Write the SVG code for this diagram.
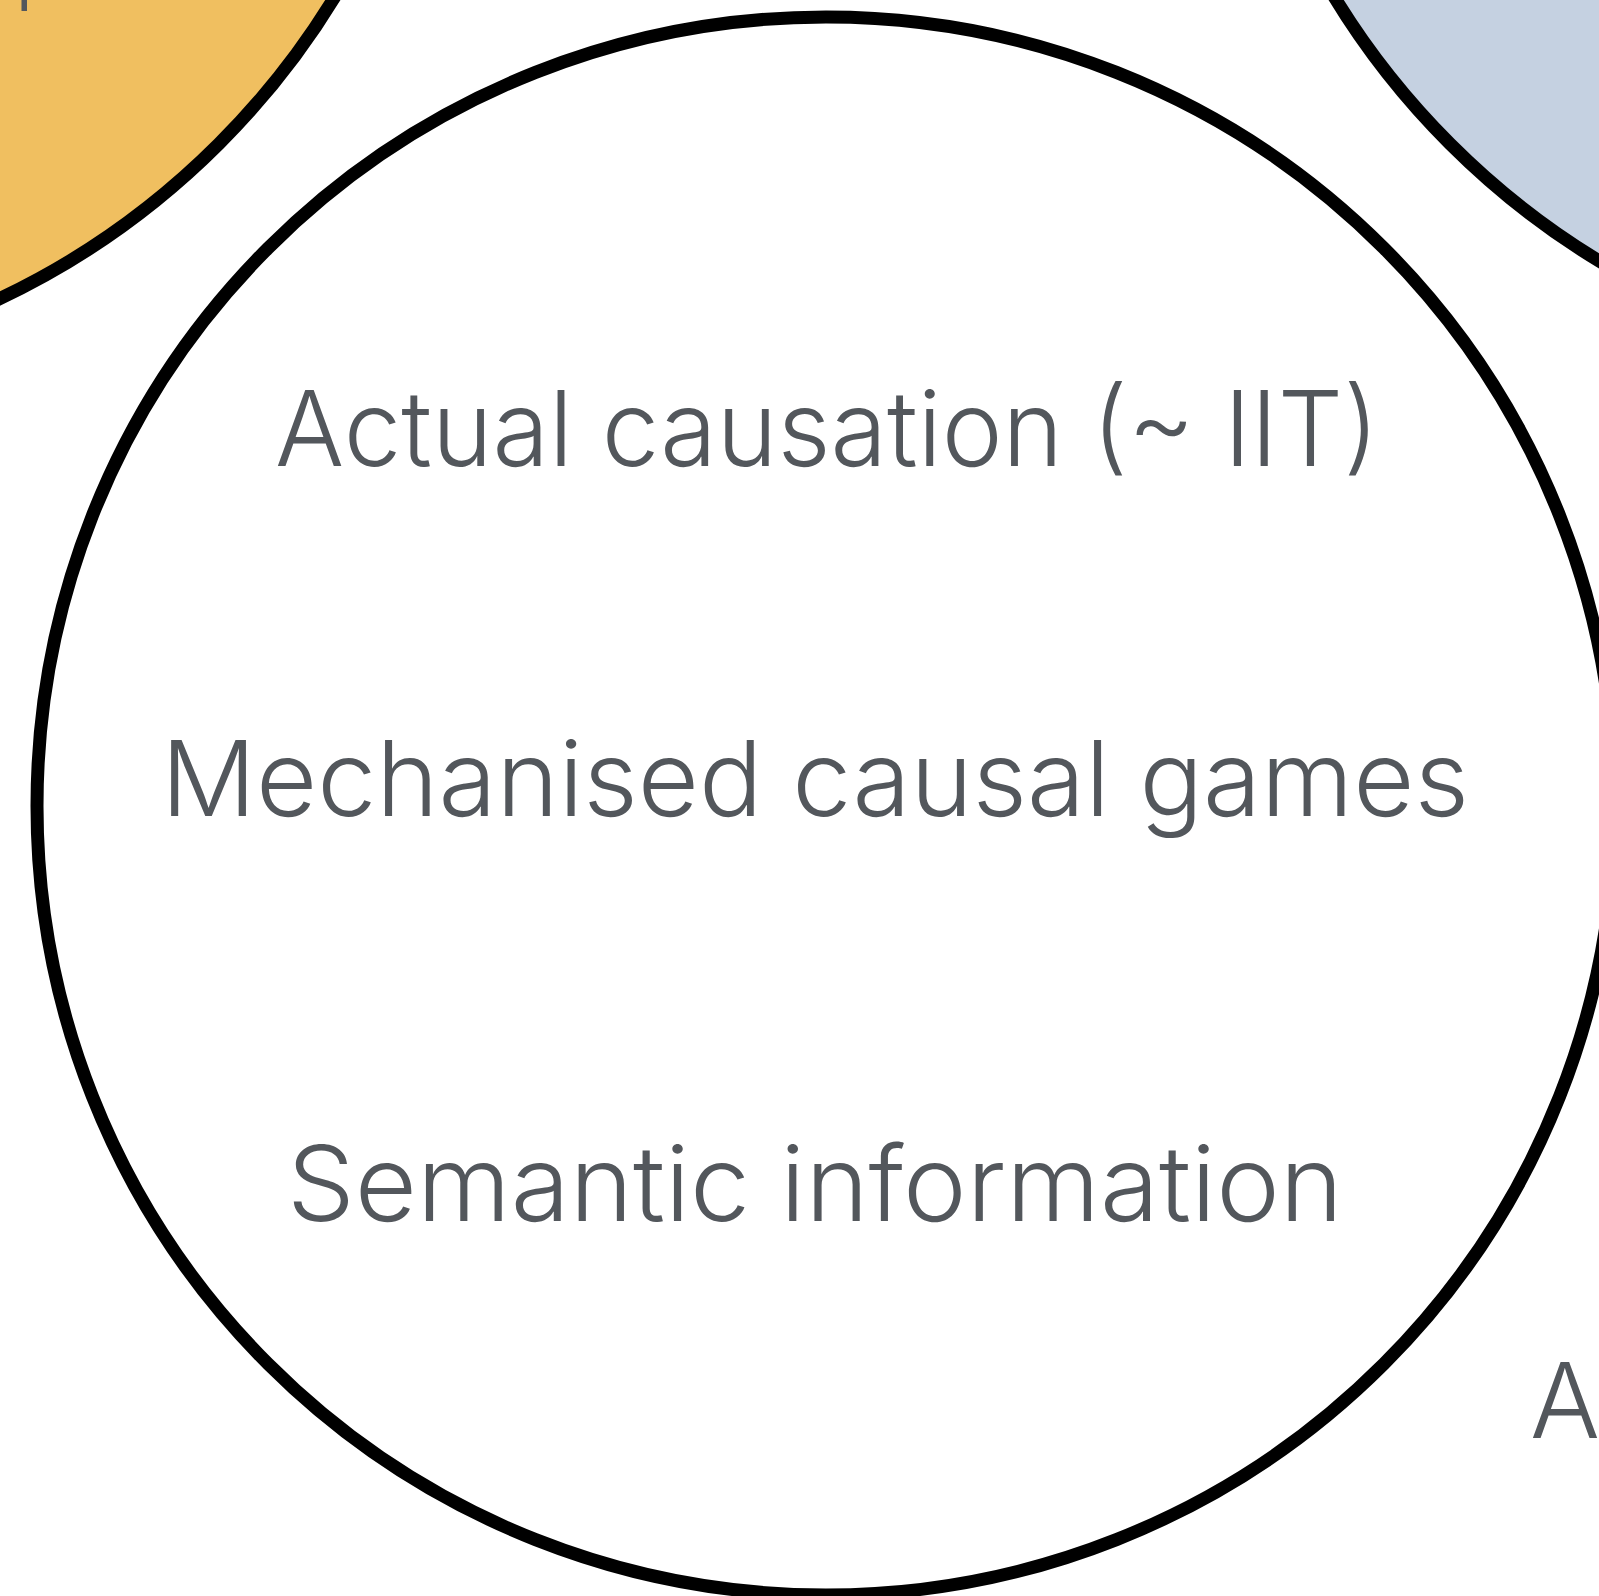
<svg xmlns="http://www.w3.org/2000/svg" width="1599" height="1596" viewBox="0 0 1599 1596">
  <style>
    .ring { stroke: #000000; stroke-width: 13; }
    .lbl { font-family: Inter, "Noto Sans", "Liberation Sans", sans-serif; font-weight: 300; font-size: 104px; fill: #53575C; }
  </style>
  <rect width="1599" height="1596" fill="#FFFFFF"/>
  <g id="node-yellow">
    <circle class="ring" cx="-339" cy="-414" r="789" fill="#F0BF60"/>
    <rect x="21.5" y="0" width="5.5" height="11" fill="#53575C"/>
  </g>
  <g id="node-blue">
    <circle class="ring" cx="2008" cy="-414" r="789" fill="#C5D1E1"/>
  </g>
  <g id="node-main">
    <circle class="ring" cx="826" cy="806" r="789" fill="#FFFFFF"/>
    <text class="lbl" x="275" y="466" textLength="1104" lengthAdjust="spacingAndGlyphs">Actual causation (~ IIT)</text>
    <text class="lbl" x="161" y="816" textLength="1308" lengthAdjust="spacingAndGlyphs">Mechanised causal games</text>
    <text class="lbl" x="287" y="1221" textLength="1056" lengthAdjust="spacingAndGlyphs">Semantic information</text>
  </g>
  <g id="node-right">
    <text class="lbl" x="1530" y="1438">A</text>
  </g>
  <g id="connectors"></g>
</svg>
